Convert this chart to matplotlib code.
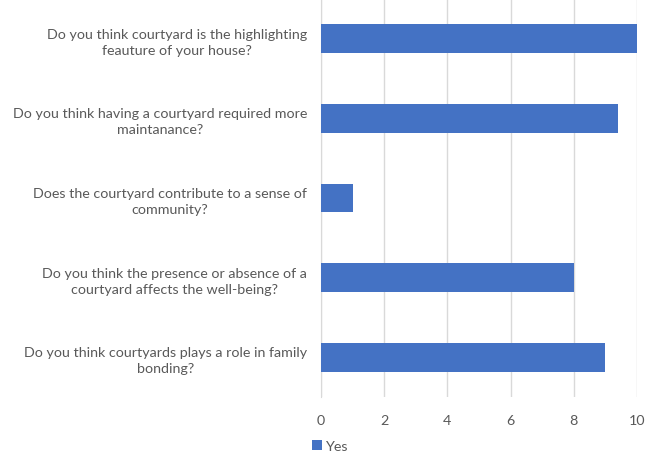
import matplotlib
matplotlib.use("Agg")
import matplotlib.pyplot as plt

# survey questions, top to bottom as shown
questions = [
    "Do you think courtyard is the highlighting\nfeauture of your house?",
    "Do you think having a courtyard required more\nmaintanance?",
    "Does the courtyard contribute to a sense of\ncommunity?",
    "Do you think the presence or absence of a\ncourtyard affects the well-being?",
    "Do you think courtyards plays a role in family\nbonding?",
]
yes_counts = [10, 9.4, 1, 8, 9]
x_ticks = [0, 2, 4, 6, 8, 10]

bar_color = "#4472C4"
text_color = "#595959"
grid_color = "#D9D9D9"

plt.rcParams['font.family'] = ['Lato', 'DejaVu Sans']

fig = plt.figure(figsize=(6.59, 4.56), dpi=100)
ax = fig.add_axes([321/659, 1 - 398/456, 316/659, 398/456])

pos = list(range(len(questions)))
ax.barh(pos, yes_counts, height=0.36, color=bar_color, label="Yes", zorder=3)

ax.set_ylim(len(questions) - 0.5, -0.5)
ax.set_xlim(0, 10)
ax.set_xticks(x_ticks)
ax.set_yticks(pos)
ax.set_yticklabels(questions)
for lab in ax.get_yticklabels():
    lab.set_multialignment('center')
    lab.set_linespacing(1.4)

ax.xaxis.grid(True, color=grid_color, linewidth=1, zorder=0)
ax.tick_params(axis='both', length=0, colors=text_color, labelsize=10.3)
ax.tick_params(axis='x', pad=12)
ax.tick_params(axis='y', pad=10)
for side in ['top', 'right', 'bottom']:
    ax.spines[side].set_visible(False)
ax.spines['left'].set_color(grid_color)

fig.legend(loc='center left', bbox_to_anchor=(305/659, 1 - 447/456),
           frameon=False, handlelength=0.7, handleheight=0.7,
           handletextpad=0.3, borderpad=0, labelcolor=text_color, fontsize=10.3)

fig.savefig("out.png", dpi=100)
